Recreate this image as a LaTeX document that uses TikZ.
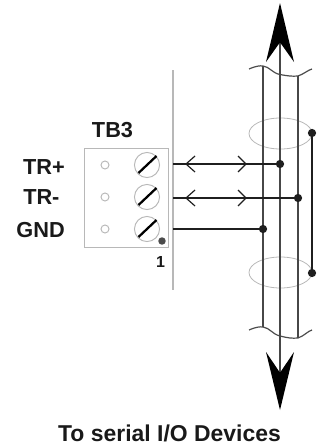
\documentclass[tikz,border=0pt]{standalone}
\usepackage{fontspec}
\setmainfont{Liberation Sans}
\usetikzlibrary{calc}
\definecolor{grayline}{gray}{0.72}
\definecolor{wirec}{gray}{0.12}
\tikzset{
  px/.style={x=0.75pt,y=-0.75pt},
  lab/.style={font=\bfseries\fontsize{16.3pt}{18pt}\selectfont,inner sep=0pt,text=black!90},
  wire/.style={draw=wirec,line width=1.35pt},
  thin wire/.style={draw=black!72,line width=1.5pt},
  chev/.style={draw=wirec,line width=0.9pt},
  junction/.style={circle,fill=wirec,draw=none,minimum size=6.2pt,inner sep=0pt},
  termbox/.style={draw=grayline,line width=0.75pt,fill=white},
  screw/.style={circle,draw=grayline,line width=0.7pt,minimum size=18.8pt,inner sep=0pt},
  hole/.style={circle,draw=grayline,line width=0.7pt,minimum size=6pt,inner sep=0pt},
  ring/.style={draw=grayline,line width=0.6pt},
  arrowfill/.style={fill=black,draw=none}
}
\begin{document}
\begin{tikzpicture}[px]
\useasboundingbox (0,0) rectangle (328,446);
\coordinate (pt) at (173,70);
\coordinate (pb) at (173,290);
\draw[draw=grayline,line width=0.9pt] (pt) -- (pb);
\draw[termbox] (84,148) rectangle (168,247);
\foreach \n/\y in {a/165,b/197,c/229}{
  \node[hole] (h\n) at (105,\y) {};
  \node[screw] (s\n) at (147,\y) {};
  \draw[draw=black,line width=1.7pt] (138.5,\y+8) -- (156.5,\y-9);
}
\node[circle,fill=black!70,minimum size=5.6pt,inner sep=0pt] (pin) at (162,241) {};
\node[lab] (tb) at (112.5,130) {TB3};
\node[lab,anchor=east] (trp) at (65,167) {TR+};
\node[lab,anchor=west] (trm) at (23,197.5) {TR-};
\node[lab,anchor=east] (gnd) at (65,230) {GND};
\node[lab,font=\bfseries\fontsize{12pt}{13pt}\selectfont] (one) at (160.5,262) {1};
\node[lab,font=\bfseries\fontsize{17.2pt}{19pt}\selectfont] (cap) at (169.5,433) {To serial I/O Devices};
\draw[ring] (280.5,133.5) ellipse [x radius=31.5,y radius=15.5];
\draw[ring] (280.5,272.5) ellipse [x radius=31.5,y radius=15.5];
\draw[draw=black!70,line width=0.9pt] (249,69) .. controls (256,66) and (260,65.5) .. (263,66)
  .. controls (270,67) and (272,73) .. (280,74.5) .. controls (288,76) and (292,76.5) .. (298,76) .. controls (304,74) and (308,70) .. (312,69);
\draw[draw=black!70,line width=0.9pt] (249,330) .. controls (256,327) and (260,326.5) .. (263,327)
  .. controls (270,328) and (272,334) .. (280,336) .. controls (288,338) and (292,338.5) .. (298,338) .. controls (304,336) and (308,331) .. (312,330);
\coordinate (w1t) at (263,66); \coordinate (w1b) at (263,327);
\coordinate (w2t) at (280,43); \coordinate (w2b) at (280,372);
\coordinate (w3t) at (298,76); \coordinate (w3b) at (298,338);
\draw[thin wire] (w1t) -- (w1b);
\draw[thin wire] (w2t) -- (w2b);
\draw[thin wire] (w3t) -- (w3b);
\fill[arrowfill] (280,3) -- (294,62) -- (280.5,43) -- (279.5,43) -- (266,62) -- cycle;
\fill[arrowfill] (280,410) -- (294,352) -- (280.5,372) -- (279.5,372) -- (266,352) -- cycle;
\node[junction] (sh1) at (312,133) {};
\node[junction] (sh2) at (312,273) {};
\draw[wire] (sh1) -- (sh2);
\node[junction] (j1) at (280,164) {};
\node[junction] (j2) at (298,198) {};
\node[junction] (j3) at (263,229) {};
\coordinate (e1) at (173,164);
\coordinate (e2) at (173,198);
\coordinate (e3) at (173,229);
\draw[wire] (e1) -- (j1);
\draw[wire] (e2) -- (j2);
\draw[wire] (e3) -- (j3);
\foreach \y in {164,198}{
  \draw[chev] (195,\y-8) -- (186,\y) -- (195,\y+8);
  \draw[chev] (238,\y-8) -- (246,\y) -- (238,\y+8);
}
\end{tikzpicture}
\end{document}
